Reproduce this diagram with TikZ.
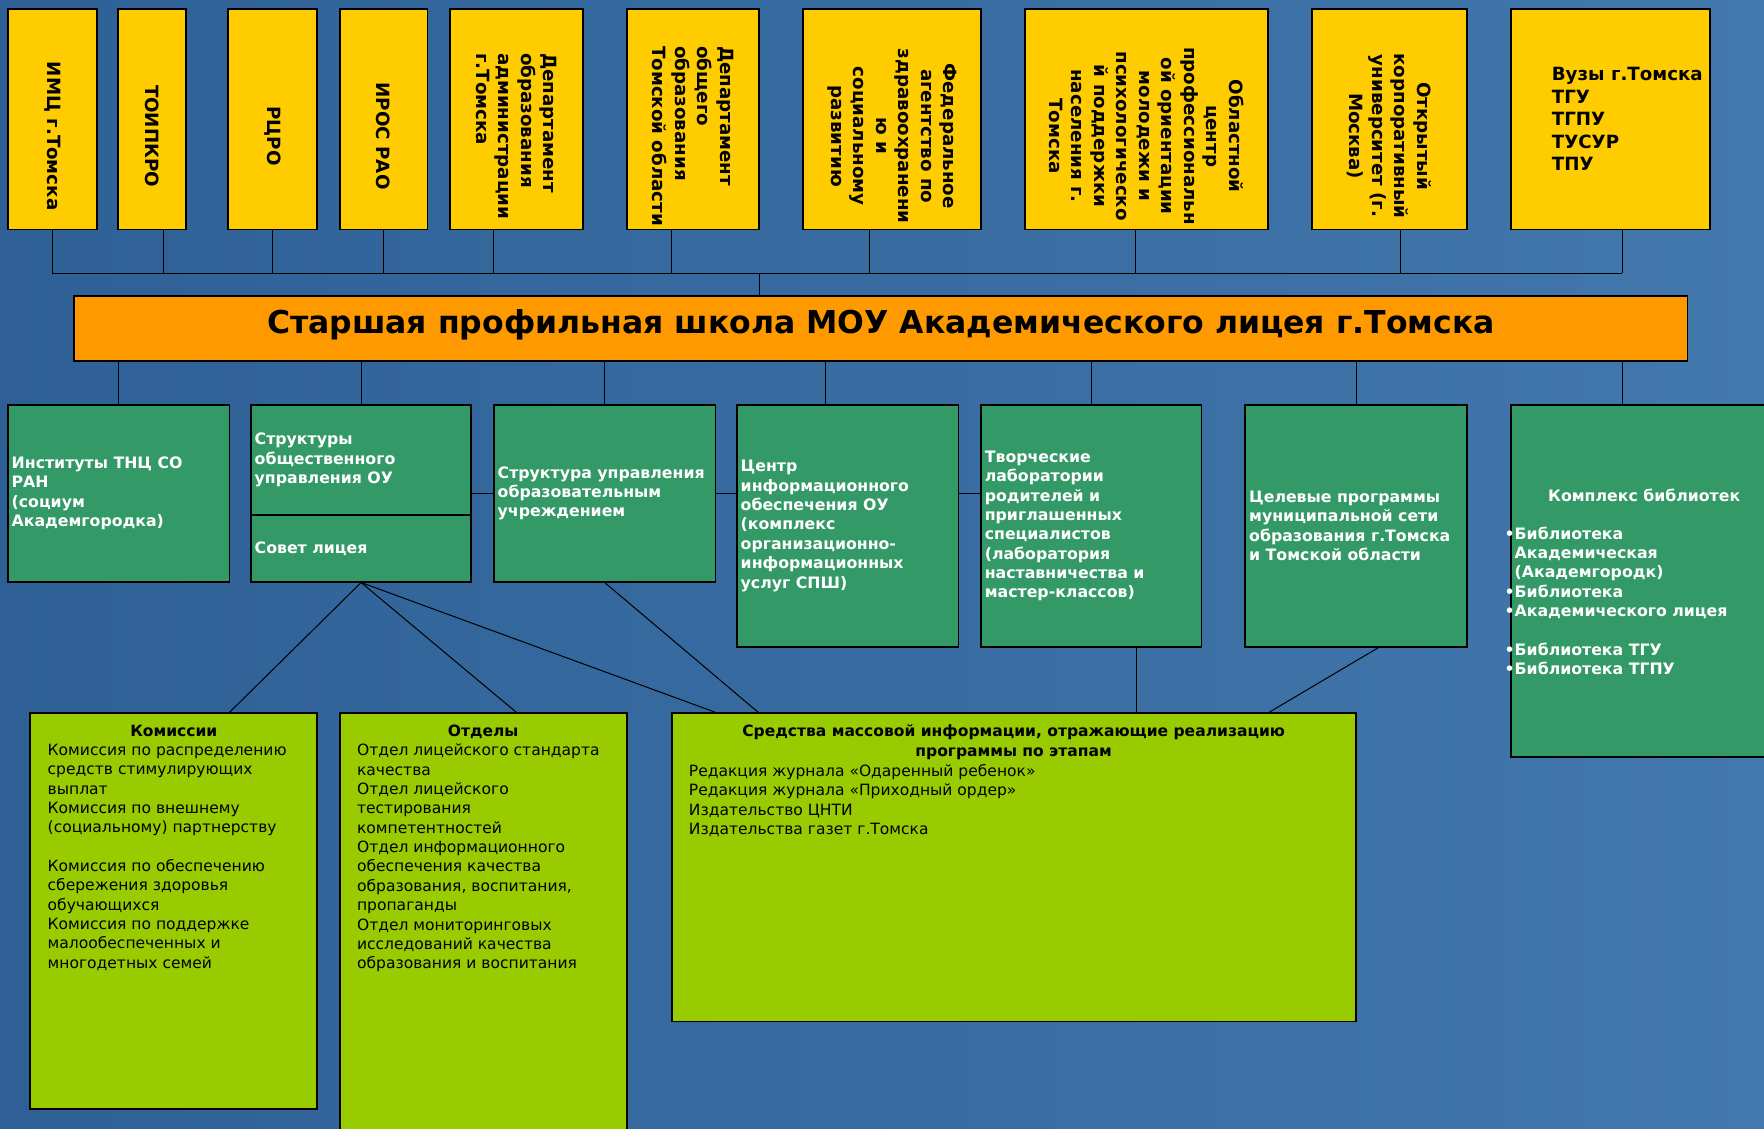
\documentclass[tikz,border=0pt]{standalone}
\usepackage{fontspec}
\setmainfont{DejaVu Sans}
\definecolor{bgdark}{RGB}{46,96,150}
\definecolor{bglight}{RGB}{67,120,172}
\definecolor{boxyellow}{RGB}{255,204,0}
\definecolor{boxorange}{RGB}{255,153,0}
\definecolor{boxgreen}{RGB}{51,153,102}
\definecolor{boxlime}{RGB}{153,204,0}
\newcommand{\vfont}{\fontsize{16.2}{20}\selectfont\bfseries}
\newcommand{\gfont}{\fontsize{14}{17.2}\selectfont\bfseries}
\newcommand{\lfont}{\fontsize{13.8}{17.2}\selectfont}

\begin{document}
\begin{tikzpicture}[x=1pt,y=-1pt,
  box/.style={draw=black,line width=1.6pt,inner sep=0pt},
  ybox/.style={box,fill=boxyellow,minimum height=196},
  gbox/.style={box,fill=boxgreen},
  lbox/.style={box,fill=boxlime},
  vtext/.style={yshift=-15pt,rotate=-90,font=\vfont,align=center,inner sep=0pt},
  vuztext/.style={anchor=west,xshift=37pt,font=\vfont,align=left,inner sep=0pt},
  gtext/.style={anchor=west,xshift=4pt,font=\gfont,text=white,align=left,inner sep=0pt},
  ltitle/.style={anchor=north,yshift=-11pt,font=\lfont\bfseries,align=center,inner sep=0pt},
  litems/.style={anchor=north west,xshift=16pt,yshift=-28pt,font=\lfont,align=left,inner sep=0pt},
  wire/.style={line width=0.9pt}]
  \shade[left color=bgdark,right color=bglight] (0,0) rectangle (1568,1003);
  \useasboundingbox (0,0) rectangle (1568,1003);

  % partners
  \node[ybox,minimum width=79,label={[vtext]center:ИМЦ г.Томска}] (imc) at (46.5,106) {};
  \node[ybox,minimum width=60,label={[vtext]center:ТОИПКРО}] (toipkro) at (135,106) {};
  \node[ybox,minimum width=79,label={[vtext]center:РЦРО}] (rcro) at (242.5,106) {};
  \node[ybox,minimum width=78,label={[vtext]center:ИРОС РАО}] (iros) at (341,106) {};
  \node[ybox,minimum width=118,label={[vtext,align=left]center:{Департамент\\образования\\администрации\\г.Томска}}] (depgor) at (459,106) {};
  \node[ybox,minimum width=118,label={[vtext,align=left]center:{Департамент\\общего\\образования\\Томской области}}] (depobl) at (616,106) {};
  \node[ybox,minimum width=158,label={[vtext]center:{Федеральное\\агентство по\\здравоохранени\\ю и\\социальному\\развитию}}] (fed) at (793,106) {};
  \node[ybox,minimum width=216,label={[vtext]center:{Областной\\центр\\профессиональн\\ой ориентации\\молодежи и\\психологическо\\й поддержки\\населения г.\\Томска}}] (oblc) at (1019,106) {};
  \node[ybox,minimum width=138,label={[vtext]center:{Открытый\\корпоративный\\университет (г.\\Москва)}}] (okun) at (1235,106) {};
  \node[ybox,minimum width=177,label={[vuztext]west:{Вузы г.Томска\\ТГУ\\ТГПУ\\ТУСУР\\ТПУ}}] (vuz) at (1431.5,106) {};

  \node[box,fill=boxorange,minimum width=1434,minimum height=58,font=\fontsize{28}{34}\selectfont\bfseries,
    label={[yshift=3pt,font=\fontsize{28}{34}\selectfont\bfseries]center:Старшая профильная школа МОУ Академического лицея г.Томска}] (main) at (783,292) {};

  % structures
  \node[gbox,minimum width=197,minimum height=157,label={[gtext]west:{Институты ТНЦ СО\\РАН\\(социум\\Академгородка)}}] (ins) at (105.5,438.5) {};
  \node[gbox,minimum width=196,minimum height=98,label={[gtext]west:{Структуры\\общественного\\управления ОУ}}] (obs) at (321,409) {};
  \node[gbox,minimum width=196,minimum height=59,label={[gtext]west:Совет лицея}] (sov) at (321,487.5) {};
  \node[gbox,minimum width=197,minimum height=157,label={[gtext]west:{Структура управления\\образовательным\\учреждением}}] (upr) at (537.5,438.5) {};
  \node[gbox,minimum width=197,minimum height=215,label={[gtext]west:{Центр\\информационного\\обеспечения ОУ\\(комплекс\\организационно-\\информационных\\услуг СПШ)}}] (cio) at (753.5,467.5) {};
  \node[gbox,minimum width=196,minimum height=215,label={[gtext]west:{Творческие\\лаборатории\\родителей и\\приглашенных\\специалистов\\(лаборатория\\наставничества и\\мастер-классов)}}] (tvl) at (970,467.5) {};
  \node[gbox,minimum width=197,minimum height=215,label={[gtext]west:{Целевые программы\\муниципальной сети\\образования г.Томска\\и Томской области}}] (cel) at (1205.5,467.5) {};
  \node[gbox,minimum width=237,minimum height=313,
    label={[gtext,anchor=center,xshift=-4pt,yshift=76.5pt]center:Комплекс библиотек},
    label={[gtext,yshift=-17.5pt]west:{\llap{•}Библиотека\\Академическая\\(Академгородк)\\\llap{•}Библиотека\\\llap{•}Академического лицея\\[17.2pt]\llap{•}Библиотека ТГУ\\\llap{•}Библиотека ТГПУ}}] (bib) at (1461.5,516.5) {};

  % units
  \node[lbox,minimum width=255,minimum height=352,label={[ltitle]north:Комиссии},
    label={[litems]north west:{Комиссия по распределению\\средств стимулирующих\\выплат\\Комиссия по внешнему\\(социальному) партнерству\\[17.2pt]Комиссия по обеспечению\\сбережения здоровья\\обучающихся\\Комиссия по поддержке\\малообеспеченных и\\многодетных семей}}] (kom) at (154.5,810) {};
  \node[lbox,minimum width=255,minimum height=392,label={[ltitle]north:Отделы},
    label={[litems]north west:{Отдел лицейского стандарта\\качества\\Отдел лицейского\\тестирования\\компетентностей\\Отдел информационного\\обеспечения качества\\образования, воспитания,\\пропаганды\\Отдел мониторинговых\\исследований качества\\образования и воспитания}}] (otd) at (429.5,830) {};
  \node[lbox,minimum width=608,minimum height=274,label={[ltitle]north:{Средства массовой информации, отражающие реализацию\\программы по этапам}},
    label={[litems,yshift=-18pt]north west:{Редакция журнала «Одаренный ребенок»\\Редакция журнала «Приходный ордер»\\Издательство ЦНТИ\\Издательства газет г.Томска}}] (smi) at (901,771) {};

  % links
  \coordinate (bus) at (0,243);
  \foreach \n/\d in {imc/0,toipkro/10,rcro/0,iros/0,depgor/-20,depobl/-19,fed/-20,oblc/-10,okun/10,vuz/10.5}
    \draw[wire] ([xshift=\d pt]\n.south) -- ([xshift=\d pt]\n.south |- bus);
  \draw[wire] (imc.south |- bus) -- ([xshift=10.5pt]vuz.south |- bus);
  \draw[wire] ([xshift=-108pt]main.north) -- ([xshift=-108pt]main.north |- bus);
  \foreach \n/\d in {ins/0,obs/0,upr/0,cio/-19.5,tvl/0,cel/0,bib/-19.5}
    \draw[wire] ([xshift=\d pt]\n.north) -- ([xshift=\d pt]\n.north |- main.south);
  \draw[wire] (obs.east |- upr.west) -- (upr.west);
  \draw[wire] (upr.east) -- (upr.east -| cio.west);
  \draw[wire] (upr.east -| cio.east) -- (upr.east -| tvl.west);
  \draw[wire] (sov.south) -- ([xshift=49.5pt]kom.north);
  \draw[wire] (sov.south) -- ([xshift=29.5pt]otd.north);
  \draw[wire] (sov.south) -- ([xshift=-265pt]smi.north);
  \draw[wire] (upr.south) -- ([xshift=-227pt]smi.north);
  \draw[wire] ([xshift=40pt]tvl.south) -- ([xshift=40pt]tvl.south |- smi.north);
  \draw[wire] ([xshift=19.5pt]cel.south) -- ([xshift=227pt]smi.north);
\end{tikzpicture}
\end{document}
